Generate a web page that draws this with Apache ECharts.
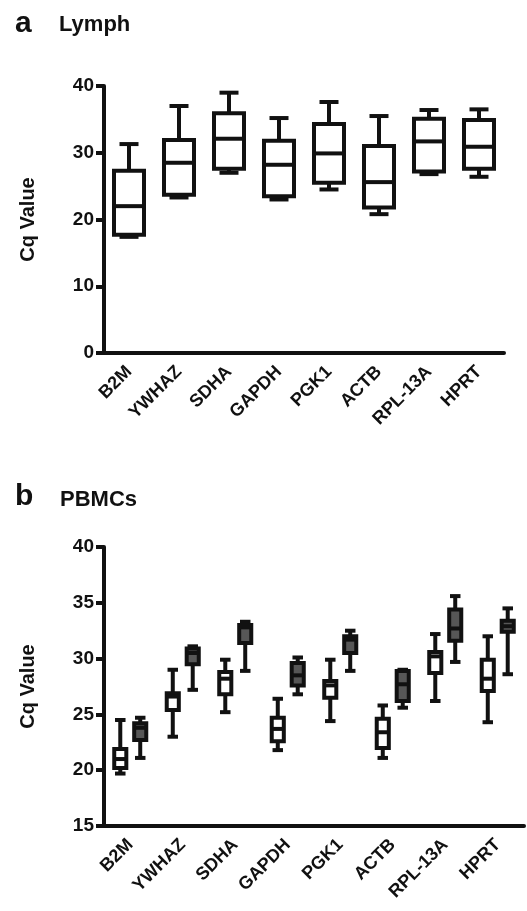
<!doctype html>
<html>
<head>
<meta charset="utf-8">
<title>Cq values - reference genes</title>
<style>
  html, body { margin: 0; padding: 0; background: #fff; }
  #main { width: 527px; height: 911px; }
</style>
</head>
<body>
<div id="main"></div>
<script src="https://cdn.jsdelivr.net/npm/echarts@6/dist/echarts.min.js"></script>
<script>
var genes = ['B2M', 'YWHAZ', 'SDHA', 'GAPDH', 'PGK1', 'ACTB', 'RPL-13A', 'HPRT'];

// [min, q1, median, q3, max]
var lymph = [
  [17.4, 17.7, 22.0, 27.3, 31.3],
  [23.3, 23.7, 28.5, 31.9, 37.0],
  [27.0, 27.6, 32.1, 35.9, 39.0],
  [23.0, 23.5, 28.2, 31.8, 35.2],
  [24.5, 25.5, 29.9, 34.3, 37.6],
  [20.8, 21.8, 25.6, 31.0, 35.5],
  [26.8, 27.2, 31.7, 35.1, 36.4],
  [26.4, 27.6, 30.9, 34.9, 36.5]
];

var pbmcWhite = [
  [19.7, 20.2, 21.0, 21.9, 24.5],
  [23.0, 25.4, 26.6, 26.9, 29.0],
  [25.2, 26.8, 28.2, 28.8, 29.9],
  [21.8, 22.6, 23.7, 24.7, 26.4],
  [24.4, 26.5, 27.6, 28.0, 29.9],
  [21.1, 22.0, 23.4, 24.6, 25.8],
  [26.2, 28.7, 30.2, 30.6, 32.2],
  [24.3, 27.1, 28.2, 29.9, 32.0]
];

var pbmcGrey = [
  [21.1, 22.7, 23.8, 24.2, 24.7],
  [27.2, 29.5, 30.5, 30.9, 31.1],
  [28.9, 31.4, 32.8, 33.0, 33.3],
  [26.8, 27.6, 28.5, 29.6, 30.1],
  [28.9, 30.5, 31.7, 32.0, 32.5],
  [25.6, 26.2, 27.7, 28.9, 29.0],
  [29.7, 31.6, 32.7, 34.4, 35.6],
  [28.6, 32.4, 32.9, 33.4, 34.5]
];

var lymphTicks = { min: 0, max: 40, interval: 10 };
var pbmcTicks = { min: 15, max: 40, interval: 5 };

var font = 'Liberation Sans, Arial, sans-serif';
var ink = '#111';

function rows(list) {
  return list.map(function (d, i) { return [i].concat(d); });
}

// box + whiskers drawn through the axis scales
function boxRender(boxFrac, capFrac, offsetFrac, fill) {
  return function (params, api) {
    var i = api.value(0);
    var band = api.size([1, 0])[0];
    var lo = api.coord([i, api.value(1)]);
    var q1 = api.coord([i, api.value(2)]);
    var md = api.coord([i, api.value(3)]);
    var q3 = api.coord([i, api.value(4)]);
    var hi = api.coord([i, api.value(5)]);
    var cx = lo[0] + band * offsetFrac;
    var bw = band * boxFrac / 2;
    var cw = band * capFrac / 2;
    var line = { stroke: ink, lineWidth: 4, lineCap: 'butt' };
    function seg(x1, y1, x2, y2) {
      return { type: 'line', shape: { x1: x1, y1: y1, x2: x2, y2: y2 }, style: line };
    }
    return {
      type: 'group',
      children: [
        seg(cx, hi[1], cx, q3[1]),
        seg(cx, q1[1], cx, lo[1]),
        seg(cx - cw, hi[1], cx + cw, hi[1]),
        seg(cx - cw, lo[1], cx + cw, lo[1]),
        {
          type: 'rect',
          shape: { x: cx - bw, y: q3[1], width: bw * 2, height: q1[1] - q3[1] },
          style: { fill: fill, stroke: ink, lineWidth: 4, lineJoin: 'miter' }
        },
        seg(cx - bw, md[1], cx + bw, md[1])
      ]
    };
  };
}

function catAxis(gridIndex) {
  return {
    type: 'category',
    gridIndex: gridIndex,
    data: genes,
    axisLine: { lineStyle: { color: ink, width: 4 } },
    axisTick: { alignWithLabel: true, length: 10, lineStyle: { color: ink, width: 4 } },
    axisLabel: {
      rotate: 45, margin: 16, color: ink, fontSize: 18, fontWeight: 'bold',
      fontFamily: font, interval: 0
    },
    splitLine: { show: false }
  };
}

function valAxis(gridIndex, t) {
  return {
    type: 'value',
    gridIndex: gridIndex,
    min: t.min, max: t.max, interval: t.interval,
    name: 'Cq Value',
    nameLocation: 'middle',
    nameGap: 66,
    nameTextStyle: { color: ink, fontSize: 20, fontWeight: 'bold', fontFamily: font },
    axisLine: { show: true, lineStyle: { color: ink, width: 4 } },
    axisTick: { show: true, length: 8, lineStyle: { color: ink, width: 4 } },
    axisLabel: { margin: 10, color: ink, fontSize: 19, fontWeight: 'bold', fontFamily: font },
    splitLine: { show: false }
  };
}

function heading(text, left, top, size) {
  return {
    text: text, left: left, top: top, padding: 0,
    textStyle: { fontSize: size, fontWeight: 'bold', color: ink, fontFamily: font }
  };
}

var chart = echarts.init(document.getElementById('main'), null, { renderer: 'canvas' });

var option = {
  backgroundColor: '#fff',
  animation: false,
  title: [
    heading('a', 15, 9, 30),
    heading('Lymph', 59, 14, 22),
    heading('b', 15, 482, 30),
    heading('PBMCs', 60, 489, 22)
  ],
  grid: [
    { left: 104, right: 23, top: 86, height: 267 },
    { left: 104, right: 3, top: 547, height: 279 }
  ],
  xAxis: [catAxis(0), catAxis(1)],
  yAxis: [valAxis(0, lymphTicks), valAxis(1, pbmcTicks)],
  series: [
    {
      name: 'Lymph', type: 'custom', xAxisIndex: 0, yAxisIndex: 0,
      renderItem: boxRender(0.6, 0.38, 0, '#fff'),
      encode: { x: 0, y: [1, 2, 3, 4, 5] },
      data: rows(lymph)
    },
    {
      name: 'PBMCs A', type: 'custom', xAxisIndex: 1, yAxisIndex: 1,
      renderItem: boxRender(0.23, 0.2, -0.19, '#fff'),
      encode: { x: 0, y: [1, 2, 3, 4, 5] },
      data: rows(pbmcWhite)
    },
    {
      name: 'PBMCs B', type: 'custom', xAxisIndex: 1, yAxisIndex: 1,
      renderItem: boxRender(0.23, 0.2, 0.19, '#575757'),
      encode: { x: 0, y: [1, 2, 3, 4, 5] },
      data: rows(pbmcGrey)
    }
  ]
};

chart.setOption(option);
</script>
</body>
</html>
